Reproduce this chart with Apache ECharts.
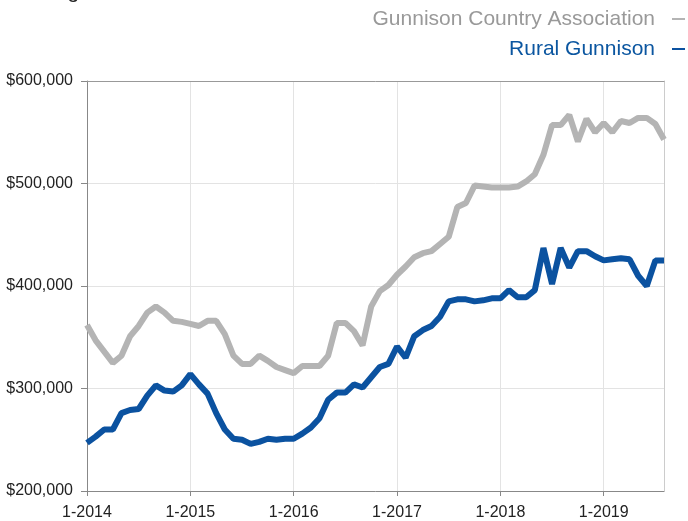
<!DOCTYPE html>
<html>
<head>
<meta charset="utf-8">
<script src="https://cdn.jsdelivr.net/npm/echarts@6/dist/echarts.min.js"></script>
<style>
  html, body { margin: 0; padding: 0; background: #fff; }
  #chart { width: 688px; height: 521px; }
</style>
</head>
<body>
<div id="chart"></div>
<script>
// monthly values, Jan 2014 .. Aug 2019
var gunnisonCountry = [
    362000, 347000, 336000, 325000, 332000, 351000, 361000, 374000, 380000, 374000, 366000, 365000,
    363000, 361000, 366000, 366000, 353000, 332000, 324000, 324000, 332000, 327000, 321000, 318000,
    315000, 322000, 322000, 322000, 332000, 364000, 364000, 356000, 342000, 380000, 395000, 401000,
    411000, 419000, 428000, 432000, 434000, 441000, 448000, 477000, 481000, 498000, 497000, 496000,
    496000, 496000, 497000, 502000, 509000, 528000, 557000, 557000, 567000, 541000, 563000, 550000,
    559000, 550000, 561000, 559000, 564000, 564000, 558000, 543000
];
var ruralGunnison = [
    247000, 253000, 260000, 260000, 276000, 279000, 280000, 293000, 303000, 298000, 297000, 303000,
    314000, 304000, 295000, 276000, 260000, 251000, 250000, 246000, 248000, 251000, 250000, 251000,
    251000, 256000, 262000, 271000, 289000, 296000, 296000, 304000, 301000, 311000, 321000, 324000,
    341000, 330000, 351000, 357000, 361000, 370000, 385000, 387000, 387000, 385000, 386000, 388000,
    388000, 396000, 389000, 389000, 396000, 437000, 402000, 437000, 418000, 434000, 434000, 429000,
    425000, 426000, 427000, 426000, 410000, 400000, 425000, 425000
];
var seriesNames = ['Gunnison Country Association', 'Rural Gunnison'];
var seriesColors = ['#b4b4b4', '#0b52a0'];
var legendColors = ['#999999', '#0b56a0'];
var startYear = 2014;

var months = [];
for (var i = 0; i < gunnisonCountry.length; i++) {
    months.push((i % 12 + 1) + '-' + (startYear + Math.floor(i / 12)));
}

var chart = echarts.init(document.getElementById('chart'));
var font = 'Liberation Sans, Arial, Helvetica, sans-serif';

var option = {
    animation: false,
    backgroundColor: '#ffffff',
    title: {
        text: 'Rolling 12-Month Calculation',
        left: 10,
        top: -23,
        textStyle: { fontFamily: font, fontSize: 21, fontWeight: 'normal', color: '#222' }
    },
    legend: {
        orient: 'vertical',
        right: 3,
        top: 7,
        padding: 0,
        align: 'right',
        itemGap: 6,
        itemWidth: 13,
        itemHeight: 2,
        icon: 'rect',
        data: [
            { name: seriesNames[0], textStyle: { color: legendColors[0] } },
            { name: seriesNames[1], textStyle: { color: legendColors[1] } }
        ],
        textStyle: { fontFamily: font, fontSize: 21, lineHeight: 24, padding: [0, 12, 0, 0] }
    },
    grid: { left: 87, right: 24, top: 81, bottom: 28, containLabel: false },
    xAxis: [{
        type: 'category',
        data: months,
        boundaryGap: false,
        axisLine: { lineStyle: { color: '#888', width: 1 } },
        axisTick: { show: true, interval: 11, length: 5, lineStyle: { color: '#888' } },
        axisLabel: { interval: 11, margin: 14, color: '#222', fontFamily: font, fontSize: 16 },
        splitLine: { show: true, interval: 11, lineStyle: { color: '#e3e3e3', width: 1 } }
    }, {
        type: 'category',
        data: months,
        boundaryGap: false,
        position: 'top',
        axisLine: { lineStyle: { color: '#999', width: 1 } },
        axisTick: { show: false },
        axisLabel: { show: false },
        splitLine: { show: false }
    }],
    yAxis: [{
        type: 'value',
        min: 200000,
        max: 600000,
        interval: 100000,
        axisLine: { show: true, lineStyle: { color: '#888', width: 1 } },
        axisTick: { show: true, length: 6, lineStyle: { color: '#888' } },
        axisLabel: {
            margin: 14,
            color: '#222',
            fontFamily: font,
            fontSize: 16,
            formatter: function (v) { return '$' + v.toLocaleString('en-US'); }
        },
        splitLine: { show: true, lineStyle: { color: '#e3e3e3', width: 1 } }
    }, {
        type: 'value',
        min: 200000,
        max: 600000,
        interval: 100000,
        position: 'right',
        axisLine: { show: true, lineStyle: { color: '#cccccc', width: 1 } },
        axisTick: { show: false },
        axisLabel: { show: false },
        splitLine: { show: false }
    }],
    series: [{
        name: seriesNames[0],
        type: 'line',
        data: gunnisonCountry,
        showSymbol: false,
        color: seriesColors[0],
        lineStyle: { width: 6, color: seriesColors[0] }
    }, {
        name: seriesNames[1],
        type: 'line',
        data: ruralGunnison,
        showSymbol: false,
        color: seriesColors[1],
        lineStyle: { width: 6, color: seriesColors[1] }
    }]
};

chart.setOption(option);
</script>
</body>
</html>
